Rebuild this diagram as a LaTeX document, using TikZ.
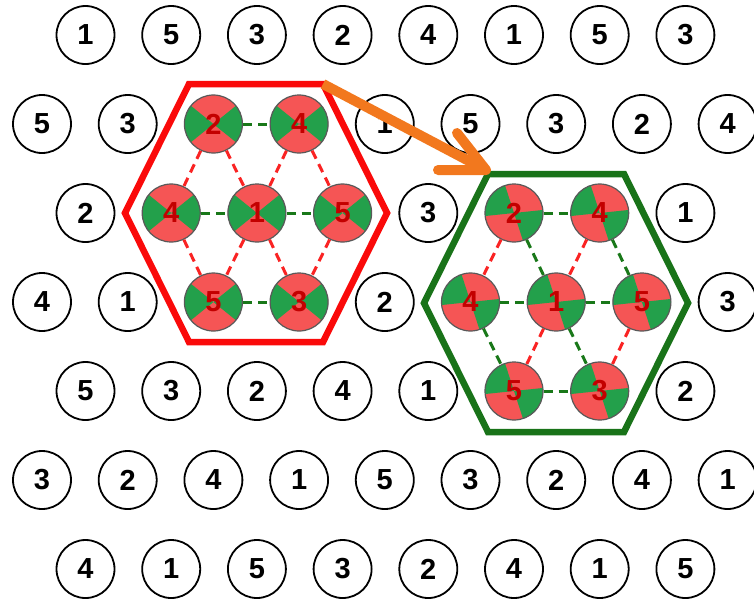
\documentclass[tikz,border=0pt]{standalone}
\usepackage{fontspec}
\setmainfont{Liberation Sans}
\usetikzlibrary{calc}
\definecolor{cred}{RGB}{245,85,85}
\definecolor{cgreen}{RGB}{35,160,75}
\definecolor{numred}{RGB}{195,0,0}
\definecolor{dred}{RGB}{250,35,35}
\definecolor{dgreen}{RGB}{25,120,25}
\definecolor{hexred}{RGB}{250,10,10}
\definecolor{hexgreen}{RGB}{25,115,25}
\definecolor{arroworange}{RGB}{242,120,30}
\tikzset{
  cellbase/.style={circle,minimum size=58pt,inner sep=0pt,
    font=\fontsize{29}{29}\selectfont\bfseries},
  pcell/.style={cellbase,draw=black,line width=1.8pt,fill=white,text=black},
  rcell/.style={cellbase,draw=black!65,line width=1.2pt,fill=cred,text=numred,
    path picture={
      \fill[cgreen] (path picture bounding box.center) -- ++(141:40pt)
        arc[start angle=141,end angle=219,radius=40pt] -- cycle;
      \fill[cgreen] (path picture bounding box.center) -- ++(-39:40pt)
        arc[start angle=-39,end angle=39,radius=40pt] -- cycle;}},
  gcell/.style={cellbase,draw=black!65,line width=1.2pt,fill=cred,text=numred,
    path picture={
      \fill[cgreen] (path picture bounding box.center) -- ++(108:40pt)
        arc[start angle=108,end angle=186,radius=40pt] -- cycle;
      \fill[cgreen] (path picture bounding box.center) -- ++(-72:40pt)
        arc[start angle=-72,end angle=6,radius=40pt] -- cycle;}},
  gdash/.style={draw=dgreen,line width=3pt,dash pattern=on 9pt off 6pt},
  rdash/.style={draw=dred,line width=3pt,dash pattern=on 9pt off 6pt},
  hexline/.style={line width=6.5pt,line join=miter},
  arrowline/.style={draw=arroworange,line width=10pt}
}
\begin{document}
\begin{tikzpicture}[x=1pt,y=-1pt]
\useasboundingbox[fill=white] (0,0) rectangle (754,603);
% hexagons
\draw[hexline,draw=hexred] (125,213) -- (189,84) -- (323,84) -- (387,213) -- (323,342) -- (189,342) -- cycle;
\draw[hexline,draw=hexgreen] (424,303) -- (488,174) -- (624,174) -- (688,303) -- (624,432) -- (488,432) -- cycle;
% grid of cells
\foreach \r/\yy/\xo/\lst in {
  0/35/85.5/{1/p,5/p,3/p,2/p,4/p,1/p,5/p,3/p},
  1/124/42/{5/p,3/p,2/r,4/r,1/p,5/p,3/p,2/p,4/p},
  2/213/85.5/{2/p,4/r,1/r,5/r,3/p,2/g,4/g,1/p},
  3/302/42/{4/p,1/p,5/r,3/r,2/p,4/g,1/g,5/g,3/p},
  4/391/85.5/{5/p,3/p,2/p,4/p,1/p,5/g,3/g,2/p},
  5/480/42/{3/p,2/p,4/p,1/p,5/p,3/p,2/p,4/p,1/p},
  6/569/85.5/{4/p,1/p,5/p,3/p,2/p,4/p,1/p,5/p}}{
  \foreach \v/\s [count=\c from 0] in \lst {
    \node[\s cell] (n\r-\c) at ({\xo+85.7*\c},\yy) {\v};
  }
}
% red hexagon links
\foreach \a/\b in {1-2/1-3,2-1/2-2,2-2/2-3,3-2/3-3}
  \draw[gdash] (n\a) -- (n\b);
\foreach \a/\b in {1-2/2-1,1-2/2-2,1-3/2-2,1-3/2-3,2-1/3-2,2-2/3-2,2-2/3-3,2-3/3-3}
  \draw[rdash] (n\a) -- (n\b);
% green hexagon links
\foreach \a/\b in {2-5/2-6,3-5/3-6,3-6/3-7,4-5/4-6,2-5/3-6,2-6/3-7,3-5/4-5,3-6/4-6}
  \draw[gdash] (n\a) -- (n\b);
\foreach \a/\b in {2-5/3-5,2-6/3-6,3-6/4-5,3-7/4-6}
  \draw[rdash] (n\a) -- (n\b);
% arrow
\coordinate (start) at (323,84);
\coordinate (tip) at (486,170);
\coordinate (barbA) at (457,133);
\coordinate (barbB) at (438,170);
\draw[arrowline] (start) -- ($(tip)!5pt!(start)$);
\draw[arrowline,line cap=round,line join=round] (barbA) -- (tip) -- (barbB);
\end{tikzpicture}
\end{document}
